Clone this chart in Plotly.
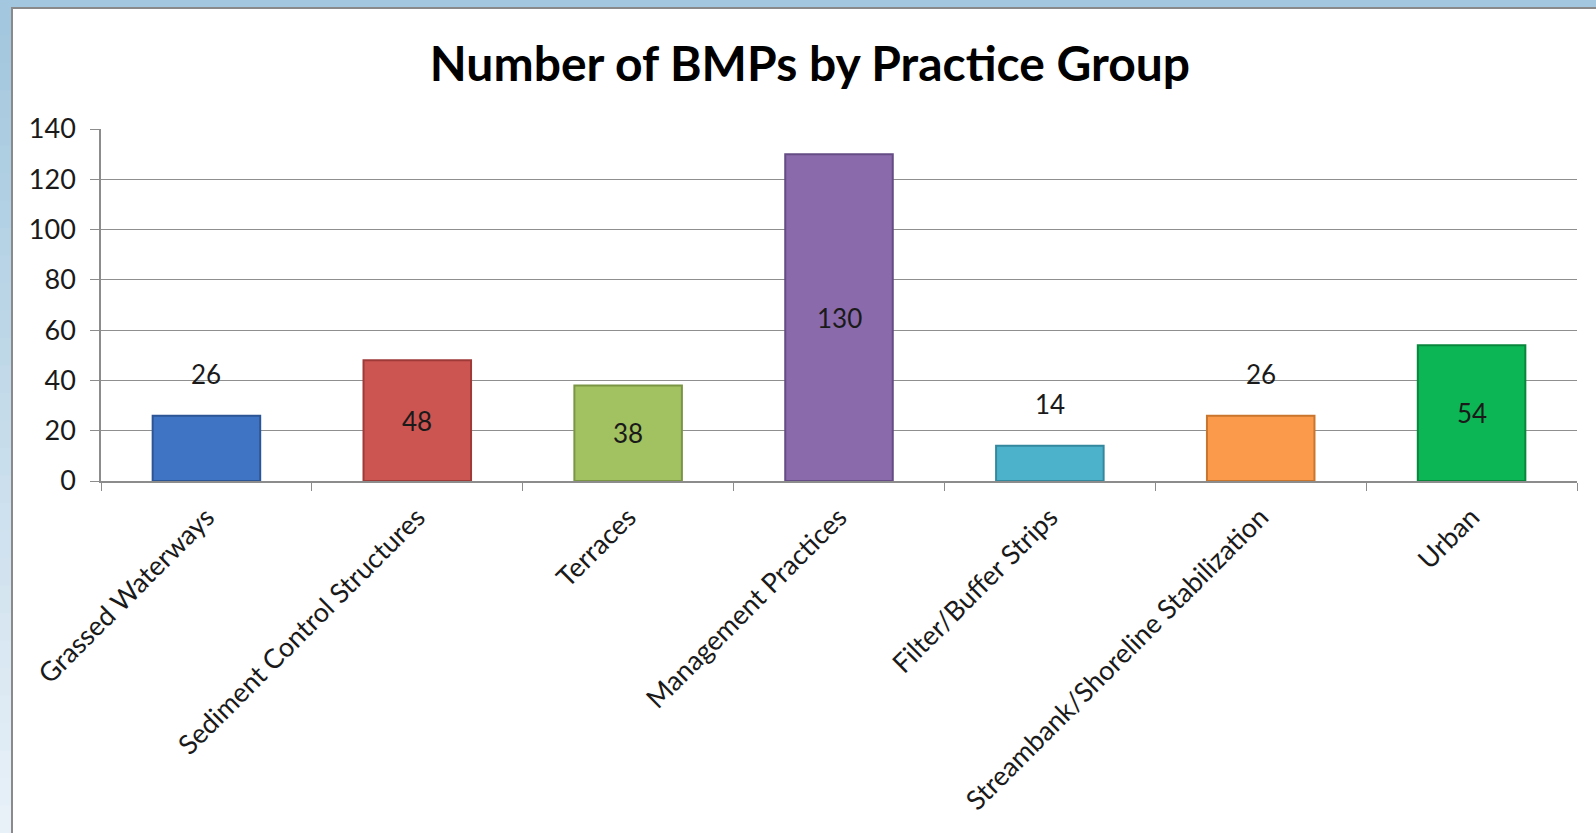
import plotly.graph_objects as go

categories = ["Grassed Waterways", "Sediment Control Structures", "Terraces",
              "Management Practices", "Filter/Buffer Strips",
              "Streambank/Shoreline Stabilization", "Urban"]
counts = [26, 48, 38, 130, 14, 26, 54]
bar_colors = ["#3F74C4", "#CC5451", "#A2C160", "#8A6AAA", "#4CB2CC", "#FA9A4A", "#0DB654"]
edge_colors = ["#2C5596", "#9E3A38", "#7A9644", "#654C84", "#34889E", "#C9752E", "#08863C"]
y_ticks = [0, 20, 40, 60, 80, 100, 120, 140]
title_text = "Number of BMPs by Practice Group"

W, H = 1596, 833
ML, MR, MT, MB = 101, 19, 129, 352
FONT = "Lato, 'Open Sans', sans-serif"

fig = go.Figure()
fig.add_trace(go.Bar(
    x=categories, y=counts,
    marker=dict(color=bar_colors, line=dict(color=edge_colors, width=2)),
    hoverinfo="x+y", showlegend=False,
))

annotations = []
for c, v in zip(categories, counts):
    if v < 30:
        annotations.append(dict(x=c, y=v, xref="x", yref="y", text=str(v),
                                showarrow=False, yshift=42,
                                font=dict(family=FONT, size=26, color="#1a1a1a")))
    else:
        annotations.append(dict(x=c, y=v / 2, xref="x", yref="y", text=str(v),
                                showarrow=False,
                                font=dict(family=FONT, size=26, color="#1a1a1a")))

pw = W - ML - MR
ph = H - MT - MB
def px_x(p):
    return (p - ML) / pw
def px_y(p):
    return (H - MB - p) / ph

nb = 30
top_c = (163, 199, 222)
bot_c = (232, 241, 248)
frame = []
frame.append(dict(type="rect", xref="paper", yref="paper", x0=px_x(-5), x1=px_x(W + 5),
                  y0=px_y(8), y1=px_y(-5), fillcolor="rgb(163,199,222)", line=dict(width=0), layer="below"))
for i in range(nb):
    t = i / (nb - 1)
    col = tuple(int(top_c[k] + (bot_c[k] - top_c[k]) * t) for k in range(3))
    y_top = 8 + (H - 8) * i / nb
    y_bot = 8 + (H - 8) * (i + 1) / nb + 1
    frame.append(dict(type="rect", xref="paper", yref="paper", x0=px_x(-5), x1=px_x(11),
                      y0=px_y(y_bot), y1=px_y(y_top), fillcolor="rgb(%d,%d,%d)" % col,
                      line=dict(width=0), layer="below"))
frame.append(dict(type="line", xref="paper", yref="paper", x0=px_x(11), x1=px_x(W + 5),
                  y0=px_y(8), y1=px_y(8), line=dict(color="#8a8a8a", width=2), layer="below"))
frame.append(dict(type="line", xref="paper", yref="paper", x0=px_x(12), x1=px_x(12),
                  y0=px_y(8), y1=px_y(H + 5), line=dict(color="#8a8a8a", width=2), layer="below"))

fig.update_layout(
    width=W, height=H,
    margin=dict(l=ML, r=MR, t=MT, b=MB),
    paper_bgcolor="white",
    plot_bgcolor="white",
    bargap=0.49,
    title=dict(text="<b>" + title_text + "</b>", x=810 / W, xref="container", xanchor="center",
               y=1 - 64 / H, yref="container", yanchor="middle",
               font=dict(family=FONT, size=48, color="black")),
    xaxis=dict(
        tickangle=-45, tickfont=dict(family=FONT, size=27, color="#1a1a1a"),
        showline=True, linecolor="#8c8c8c", linewidth=1.5,
        ticks="outside", tickson="boundaries", ticklen=8, tickcolor="#8c8c8c",
        ticklabelstandoff=8,
        showgrid=False,
    ),
    yaxis=dict(
        range=[0, 140], tickvals=y_ticks,
        tickfont=dict(family=FONT, size=27, color="#1a1a1a"),
        showline=True, linecolor="#8c8c8c", linewidth=1.5,
        ticks="outside", ticklen=9, tickcolor="#8c8c8c",
        ticklabelstandoff=9,
        showgrid=True, gridcolor="#8f8f8f", gridwidth=1.3,
        zeroline=False,
    ),
    annotations=annotations,
    shapes=frame,
)

fig.write_html("out.html", config={"displayModeBar": False},
               post_script="document.body.style.margin='0';document.body.style.overflow='hidden';")
